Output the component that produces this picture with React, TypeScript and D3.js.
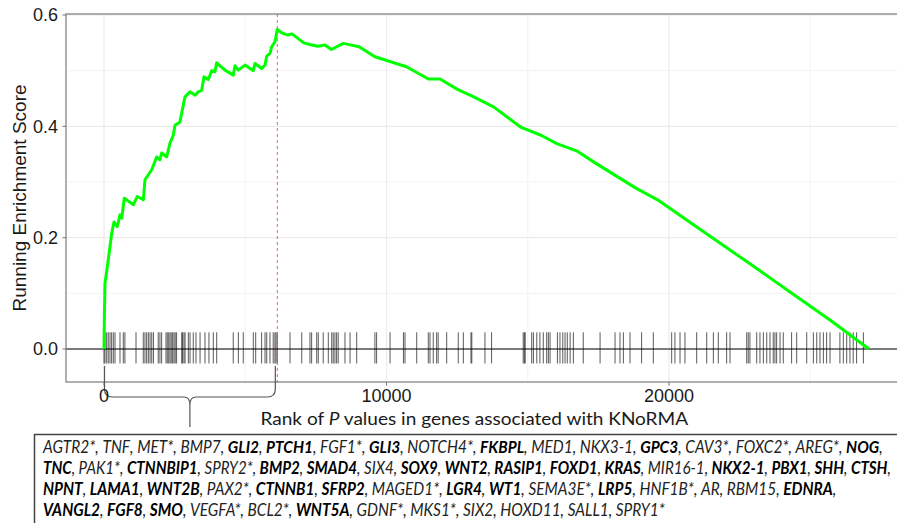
import React, { useLayoutEffect, useRef, useState } from "react";
import * as d3 from "d3";

// ---------- data ----------
const esRank = [0, 15, 35, 106, 212, 273, 354, 471, 566, 627, 719, 1037, 1179, 1391, 1451, 1688, 1865, 1982, 2042, 2219, 2336, 2453, 2513, 2690, 2750, 2867, 3044, 3221, 3338, 3458, 3540, 3692, 3812, 3929, 3989, 4283, 4577, 4637, 4754, 4991, 5285, 5345, 5582, 5699, 5759, 5876, 5936, 6053, 6135, 6290, 6510, 6655, 7069, 7292, 7561, 7823, 8050, 8471, 9030, 9589, 10149, 10708, 11480, 11897, 12527, 13090, 13788, 14768, 15469, 16028, 16729, 17427, 18127, 18828, 19596, 21097, 22867, 24637, 25699, 27080];
const esValue = [0, 0.061, 0.118, 0.143, 0.184, 0.208, 0.228, 0.22, 0.241, 0.235, 0.271, 0.259, 0.274, 0.268, 0.304, 0.322, 0.345, 0.34, 0.352, 0.345, 0.37, 0.384, 0.402, 0.408, 0.424, 0.453, 0.462, 0.456, 0.462, 0.465, 0.489, 0.484, 0.5, 0.498, 0.514, 0.501, 0.492, 0.509, 0.501, 0.51, 0.5, 0.513, 0.504, 0.51, 0.526, 0.531, 0.543, 0.552, 0.574, 0.568, 0.564, 0.566, 0.55, 0.547, 0.544, 0.546, 0.538, 0.549, 0.543, 0.525, 0.516, 0.507, 0.485, 0.485, 0.466, 0.453, 0.435, 0.398, 0.384, 0.369, 0.356, 0.333, 0.311, 0.289, 0.268, 0.215, 0.153, 0.09, 0.052, 0];

const hitRanks = [0, 35, 95, 150, 212, 270, 330, 390, 566, 683, 740, 1133, 1390, 1450, 1510, 1570, 1630, 1690, 1750, 1920, 1980, 2040, 2195, 2240, 2290, 2336, 2380, 2430, 2478, 2520, 2570, 2750, 2780, 2830, 2870, 2985, 3045, 3160, 3256, 3400, 3575, 3715, 3870, 3990, 4575, 4755, 4930, 5285, 5370, 5580, 5700, 5760, 5875, 5990, 6050, 6090, 6135, 6585, 7000, 7290, 7350, 7530, 7585, 7760, 7940, 8060, 8115, 8175, 8235, 8290, 8530, 8710, 8945, 9590, 9650, 10125, 10600, 10655, 11070, 11480, 11540, 11655, 11775, 11830, 12130, 12540, 12720, 12990, 13020, 13485, 13720, 14840, 14880, 14910, 15140, 15200, 15320, 15430, 15550, 15670, 15730, 15790, 16050, 16140, 16240, 16320, 16400, 16500, 16615, 16965, 17560, 18090, 18265, 18385, 18620, 19030, 19445, 20095, 20210, 20390, 20565, 20980, 21335, 21570, 21745, 22040, 22160, 22750, 22805, 22865, 23105, 23220, 23340, 23460, 23575, 23690, 23750, 23810, 23930, 24045, 24340, 24520, 24875, 25110, 25230, 25345, 25465, 25580, 25700, 26050, 26170, 26290, 26405, 26520, 26640, 26880];

const peakRank = 6135;
const xTicks = [0, 10000, 20000];
const xMinor = [5000, 15000, 25000];
const yTicks = [0, 0.2, 0.4, 0.6];
const yMinor = [0.1, 0.3, 0.5];
const yTickLabels = ["0.0", "0.2", "0.4", "0.6"];

const geneLine1 = ["AGTR2*", "TNF", "MET*", "BMP7", "GLI2", "PTCH1", "FGF1*", "GLI3", "NOTCH4*", "FKBPL", "MED1", "NKX3-1", "GPC3", "CAV3*", "FOXC2*", "AREG*", "NOG"];
const geneLine2 = ["TNC", "PAK1*", "CTNNBIP1", "SPRY2*", "BMP2", "SMAD4", "SIX4", "SOX9", "WNT2", "RASIP1", "FOXD1", "KRAS", "MIR16-1", "NKX2-1", "PBX1", "SHH", "CTSH"];
const geneLine3 = ["NPNT", "LAMA1", "WNT2B", "PAX2*", "CTNNB1", "SFRP2", "MAGED1*", "LGR4", "WT1", "SEMA3E*", "LRP5", "HNF1B*", "AR", "RBM15", "EDNRA"];
const geneLine4 = ["VANGL2", "FGF8", "SMO", "VEGFA*", "BCL2*", "WNT5A", "GDNF*", "MKS1*", "SIX2", "HOXD11", "SALL1", "SPRY1*"];
const boldGenes = ["GLI2", "PTCH1", "GLI3", "FKBPL", "GPC3", "NOG", "TNC", "CTNNBIP1", "BMP2", "SMAD4", "SOX9", "WNT2", "RASIP1", "FOXD1", "KRAS", "NKX2-1", "PBX1", "SHH", "CTSH", "NPNT", "LAMA1", "WNT2B", "CTNNB1", "SFRP2", "LGR4", "WT1", "LRP5", "EDNRA", "VANGL2", "FGF8", "SMO", "WNT5A"];

// ---------- layout ----------
const W = 897, H = 523;
const panel = { left: 66, top: 14, right: 908, bottom: 382 };
const textX = 43;

export default function App() {
  const x = d3.scaleLinear().domain([0, 10000]).range([104, 386.5]);
  const y = d3.scaleLinear().domain([0, 0.6]).range([349, 15]);
  const pts = esRank.map((r, i) => [r, esValue[i]] as [number, number]);
  const line = d3.line<[number, number]>().x(d => x(d[0])).y(d => y(d[1]));

  const axisFont = "'Liberation Sans', Arial, sans-serif";
  const textFont = "Lato, 'Open Sans', sans-serif";

  const geneLines = [
    { genes: geneLine1, trail: true, len: 838 },
    { genes: geneLine2, trail: true, len: 849 },
    { genes: geneLine3, trail: true, len: 793 },
    { genes: geneLine4, trail: false, len: 622 },
  ];

  const refs = useRef<(SVGTextElement | null)[]>([]);
  const titleRef = useRef<SVGTextElement | null>(null);
  const [scales, setScales] = useState<number[]>([1, 1, 1, 1]);
  const [titleScale, setTitleScale] = useState(1);
  useLayoutEffect(() => {
    const s = geneLines.map((ln, i) => {
      const el = refs.current[i];
      if (!el) return 1;
      const w = el.getComputedTextLength();
      return w > 0 ? ln.len / w : 1;
    });
    setScales(s);
    if (titleRef.current) {
      const w = titleRef.current.getComputedTextLength();
      if (w > 0) setTitleScale(428 / w);
    }
    // eslint-disable-next-line
  }, []);

  const bx0 = x(0) + 0.5, bx1 = x(peakRank) - 2, bmid = (bx0 + bx1) / 2;
  const braceY = 397;
  const brace = `M${bx0},366 L${bx0},389 Q${bx0},${braceY} ${bx0 + 8},${braceY} L${bmid - 6},${braceY} Q${bmid},${braceY} ${bmid},${braceY + 8} L${bmid},427 M${bmid},${braceY + 8} Q${bmid},${braceY} ${bmid + 6},${braceY} L${bx1 - 8},${braceY} Q${bx1},${braceY} ${bx1},389 L${bx1},366`;

  return (
    <svg width={W} height={H} style={{ position: "fixed", left: 0, top: 0, background: "#fff" }}>
      <defs>
        <clipPath id="pc"><rect x={panel.left} y={panel.top} width={panel.right - panel.left} height={panel.bottom - panel.top} /></clipPath>
      </defs>
      <rect x={panel.left} y={panel.top} width={panel.right - panel.left} height={panel.bottom - panel.top} fill="#fff" />
      <g clipPath="url(#pc)">
        {xMinor.map(t => <line key={"xm" + t} x1={x(t)} x2={x(t)} y1={panel.top} y2={panel.bottom} stroke="#F0F0F0" strokeWidth={0.8} />)}
        {yMinor.map(t => <line key={"ym" + t} x1={panel.left} x2={panel.right} y1={y(t)} y2={y(t)} stroke="#F0F0F0" strokeWidth={0.8} />)}
        {xTicks.map(t => <line key={"xg" + t} x1={x(t)} x2={x(t)} y1={panel.top} y2={panel.bottom} stroke="#EBEBEB" strokeWidth={1.2} />)}
        {yTicks.map(t => <line key={"yg" + t} x1={panel.left} x2={panel.right} y1={y(t)} y2={y(t)} stroke="#EBEBEB" strokeWidth={1.2} />)}
        <line x1={panel.left} x2={panel.right} y1={y(0)} y2={y(0)} stroke="#000" strokeWidth={1} />
        {hitRanks.map((r, i) => <line key={"h" + i} x1={x(r)} x2={x(r)} y1={y(0.03)} y2={y(-0.026)} stroke="#000" strokeOpacity={0.65} strokeWidth={1} />)}
        <line x1={x(peakRank)} x2={x(peakRank)} y1={panel.top} y2={panel.bottom} stroke="#F0605F" strokeWidth={1} strokeDasharray="3,3" />
        <path d={line(pts) || ""} fill="none" stroke="#00FF00" strokeWidth={3} strokeLinejoin="round" />
      </g>
      <rect x={panel.left} y={panel.top} width={panel.right - panel.left} height={panel.bottom - panel.top} fill="none" stroke="#7a7a7a" strokeWidth={1.2} />
      {yTicks.map((t, i) => (
        <g key={"yt" + t}>
          <line x1={panel.left - 3.5} x2={panel.left} y1={y(t)} y2={y(t)} stroke="#7a7a7a" strokeWidth={1.1} />
          <text x={panel.left - 8} y={y(t)} dy="0.36em" textAnchor="end" fontFamily={axisFont} fontSize={18} fill="#1a1a1a">{yTickLabels[i]}</text>
        </g>
      ))}
      {xTicks.map(t => (
        <line key={"xt" + t} x1={x(t)} x2={x(t)} y1={panel.bottom} y2={panel.bottom + 3.5} stroke="#7a7a7a" strokeWidth={1.1} />
      ))}
      <path d={brace} fill="none" stroke="#555" strokeWidth={1.2} />
      {xTicks.map(t => (
        <text key={"xl" + t} x={x(t)} y={402} textAnchor="middle" fontFamily={axisFont} fontSize={18} fill="#1a1a1a">{d3.format("d")(t)}</text>
      ))}
      <text transform={`translate(26,${(panel.top + panel.bottom) / 2}) rotate(-90)`} textAnchor="middle" fontFamily={axisFont} fontSize={19} fill="#1a1a1a">Running Enrichment Score</text>
      <g transform={`translate(260.5,0) scale(${titleScale},1)`}>
        <text ref={titleRef} x={0} y={425} fontFamily={textFont} fontSize={18} fill="#1a1a1a">Rank of <tspan fontStyle="italic">P</tspan> values in genes associated with KNoRMA</text>
      </g>

      <rect x={34.5} y={434.5} width={W} height={H} fill="none" stroke="#444" strokeWidth={1.5} />
      {geneLines.map((ln, li) => (
        <g key={"gl" + li} transform={`translate(${textX},0) scale(${scales[li]},1)`}>
          <text ref={el => { refs.current[li] = el; }} x={0} y={453 + li * 21} fontFamily={textFont} fontStyle="italic" fontSize={17} fill="#222">
            {ln.genes.map((g, gi) => {
              const bold = boldGenes.includes(g);
              const sep = gi < ln.genes.length - 1 ? ", " : (ln.trail ? "," : "");
              return (
                <React.Fragment key={g}>
                  <tspan fontWeight={bold ? 700 : 400} fill={bold ? "#000" : "#222"}>{g}</tspan>
                  <tspan>{sep}</tspan>
                </React.Fragment>
              );
            })}
          </text>
        </g>
      ))}
    </svg>
  );
}
